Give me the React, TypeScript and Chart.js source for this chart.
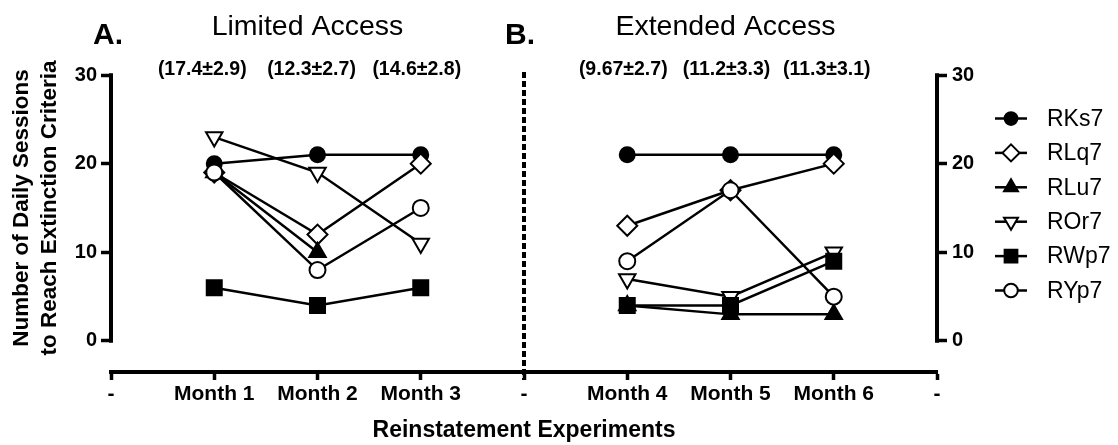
import React, { useEffect, useRef } from 'react';
import { Chart, registerables } from 'chart.js';

Chart.register(...registerables);

// ---------- data ----------
const xLabels = ['-', 'Month 1', 'Month 2', 'Month 3', '-', 'Month 4', 'Month 5', 'Month 6', '-'];
const seriesNames = ['RKs7', 'RLq7', 'RLu7', 'ROr7', 'RWp7', 'RYp7'];
const RKs7 = [null, 20, 21, 21, null, 21, 21, 21, null];
const RLq7 = [null, 19, 12, 20, null, 13, 17, 20, null];
const RLu7 = [null, 19, 10, null, null, 4, 3, 3, null];
const ROr7 = [null, 23, 19, 11, null, 7, 5, 10, null];
const RWp7 = [null, 6, 4, 6, null, 4, 4, 9, null];
const RYp7 = [null, 19, 8, 15, null, 9, 17, 5, null];
const seriesValues = [RKs7, RLq7, RLu7, ROr7, RWp7, RYp7];
const yTicks = [0, 10, 20, 30];
const panelTitles = ['Limited Access', 'Extended Access'];
const panelLetters = ['A.', 'B.'];
const leftStats = ['(17.4\u00B12.9)', '(12.3\u00B12.7)', '(14.6\u00B12.8)'];
const rightStats = ['(9.67\u00B12.7)', '(11.2\u00B13.3)', '(11.3\u00B13.1)'];
const yTitle = ['Number of Daily Sessions', 'to Reach Extinction Criteria'];
const xTitle = 'Reinstatement Experiments';

// ---------- styles ----------
const FONT = '"Liberation Sans", Arial, Helvetica, sans-serif';
const markerStyles = ['circle', 'rectRot', 'triangle', 'triangle', 'rect', 'circle'];
const markerRotations = [0, 0, 0, 180, 0, 0];
const markerFilled = [true, false, true, false, true, false];
const markerRadius = [7.5, 10, 9.5, 9.5, 10.6, 8];

function markerPath(ctx: CanvasRenderingContext2D, style: string, x: number, y: number, r: number, rot: number) {
  ctx.beginPath();
  if (style === 'circle') {
    ctx.arc(x, y, r, 0, Math.PI * 2);
  } else if (style === 'rect') {
    const s = r * Math.SQRT1_2;
    ctx.rect(x - s, y - s, 2 * s, 2 * s);
  } else if (style === 'rectRot') {
    ctx.moveTo(x - r, y);
    ctx.lineTo(x, y - r);
    ctx.lineTo(x + r, y);
    ctx.lineTo(x, y + r);
    ctx.closePath();
  } else {
    let a = (rot * Math.PI) / 180;
    for (let k = 0; k < 3; k++) {
      const px = x + Math.sin(a) * r;
      const py = y - Math.cos(a) * r;
      if (k === 0) ctx.moveTo(px, py);
      else ctx.lineTo(px, py);
      a += (2 * Math.PI) / 3;
    }
    ctx.closePath();
  }
}

const decorPlugin = {
  id: 'decor',
  afterDraw(chart: any) {
    const ctx: CanvasRenderingContext2D = chart.ctx;
    const xS = chart.scales.x;
    const yS = chart.scales.y;
    const area = chart.chartArea;
    const y0 = yS.getPixelForValue(0);
    const y30 = yS.getPixelForValue(30);
    ctx.save();
    ctx.strokeStyle = '#000';
    ctx.fillStyle = '#000';

    // y axis lines (0..30) on both sides
    ctx.lineWidth = 4;
    ctx.lineCap = 'butt';
    ctx.beginPath();
    ctx.moveTo(area.left, y30 - 1.75);
    ctx.lineTo(area.left, y0 + 1.75);
    ctx.moveTo(area.right, y30 - 1.75);
    ctx.lineTo(area.right, y0 + 1.75);
    ctx.stroke();

    // dotted divider
    const xd = xS.getPixelForValue(4);
    ctx.save();
    ctx.lineWidth = 4;
    ctx.setLineDash([6, 3]);
    ctx.beginPath();
    ctx.moveTo(xd, y30 - 3);
    ctx.lineTo(xd, area.bottom + 8);
    ctx.stroke();
    ctx.restore();

    // panel titles
    ctx.textBaseline = 'middle';
    ctx.textAlign = 'center';
    ctx.font = `28.5px ${FONT}`;
    ctx.fillText(panelTitles[0], xS.getPixelForValue(2) - 10, 27);
    ctx.fillText(panelTitles[1], xS.getPixelForValue(6) - 5, 27);

    ctx.textAlign = 'left';
    ctx.font = `bold 30px ${FONT}`;
    ctx.fillText(panelLetters[0], area.left - 18, 36);
    ctx.fillText(panelLetters[1], xd - 19, 36);

    // stats
    ctx.textAlign = 'center';
    ctx.font = `bold 19.5px ${FONT}`;
    const lOff = [-12, -6, -4];
    const rOff = [-4, -4, -7];
    leftStats.forEach((s, i) => ctx.fillText(s, xS.getPixelForValue(i + 1) + lOff[i], y30 - 5));
    rightStats.forEach((s, i) => ctx.fillText(s, xS.getPixelForValue(i + 5) + rOff[i], y30 - 5));

    // y title (two lines, rotated)
    ctx.save();
    ctx.font = `bold 22.5px ${FONT}`;
    ctx.translate(0, (y0 + y30) / 2);
    ctx.rotate(-Math.PI / 2);
    ctx.textAlign = 'center';
    ctx.fillText(yTitle[0], 0, 22);
    ctx.fillText(yTitle[1], 0, 50);
    ctx.restore();

    // legend
    const lx = area.right + 74;
    seriesNames.forEach((name, i) => {
      const ly = 118.5 + i * 34.4;
      ctx.lineWidth = 2.5;
      ctx.beginPath();
      ctx.moveTo(lx - 16, ly);
      ctx.lineTo(lx + 16, ly);
      ctx.stroke();
      markerPath(ctx, markerStyles[i], lx, ly, markerRadius[i] * 0.85, markerRotations[i]);
      ctx.fillStyle = markerFilled[i] ? '#000' : '#fff';
      ctx.fill();
      ctx.lineWidth = 2;
      ctx.stroke();
      ctx.fillStyle = '#000';
      ctx.textAlign = 'left';
      ctx.font = `23px ${FONT}`;
      ctx.fillText(name, lx + 36, ly + 1);
    });

    ctx.restore();
  },
};

export default function App() {
  const ref = useRef<HTMLCanvasElement | null>(null);

  useEffect(() => {
    if (!ref.current) return;
    const yScale = (pos: 'left' | 'right', width: number) => ({
      type: 'linear' as const,
      position: pos,
      min: -3.5,
      max: 30,
      afterBuildTicks: (s: any) => {
        s.ticks = yTicks.map((v) => ({ value: v }));
      },
      afterFit: (s: any) => {
        s.width = width;
      },
      border: { display: false },
      grid: { drawOnChartArea: false, drawTicks: true, tickLength: 10, tickWidth: 3.5, tickColor: '#000' },
      ticks: { color: '#000', padding: pos === 'left' ? 4 : 5, font: { family: FONT, size: 20, weight: 'bold' as const } },
    });

    const chart = new Chart(ref.current, {
      type: 'line',
      data: {
        labels: xLabels,
        datasets: seriesNames.map((name, i) => ({
          label: name,
          data: seriesValues[i],
          borderColor: '#000',
          borderWidth: 2.5,
          pointStyle: markerStyles[i] as any,
          pointRotation: markerRotations[i],
          pointRadius: markerRadius[i],
          pointBackgroundColor: markerFilled[i] ? '#000' : '#fff',
          pointBorderColor: '#000',
          pointBorderWidth: 2,
          spanGaps: false,
          tension: 0,
          clip: false as any,
          order: -i,
        })),
      },
      options: {
        responsive: false,
        animation: false,
        events: [],
        layout: { padding: { top: 75, bottom: 0, left: 0, right: 0 } },
        plugins: { legend: { display: false }, tooltip: { enabled: false } },
        scales: {
          x: {
            type: 'category',
            offset: false,
            border: { display: true, width: 4, color: '#000' },
            grid: { drawOnChartArea: false, drawTicks: true, tickLength: 8, tickWidth: 3.5, tickColor: '#000' },
            ticks: {
              autoSkip: false,
              maxRotation: 0,
              color: '#000',
              padding: 2,
              font: { family: FONT, size: 21, weight: 'bold' },
            },
            title: {
              display: true,
              text: xTitle,
              color: '#000',
              padding: { top: 0, bottom: 1 },
              font: { family: FONT, size: 23, weight: 'bold' },
            },
            afterFit: (s: any) => {
              s.height = 73;
            },
          },
          y: yScale('left', 111),
          y2: yScale('right', 181),
        },
      },
      plugins: [decorPlugin],
    });
    return () => chart.destroy();
  }, []);

  return (
    <div style={{ position: 'absolute', left: 0, top: 0, width: 1118, height: 445, background: '#fff' }}>
      <canvas ref={ref} width={1118} height={445} style={{ display: 'block' }} />
    </div>
  );
}
